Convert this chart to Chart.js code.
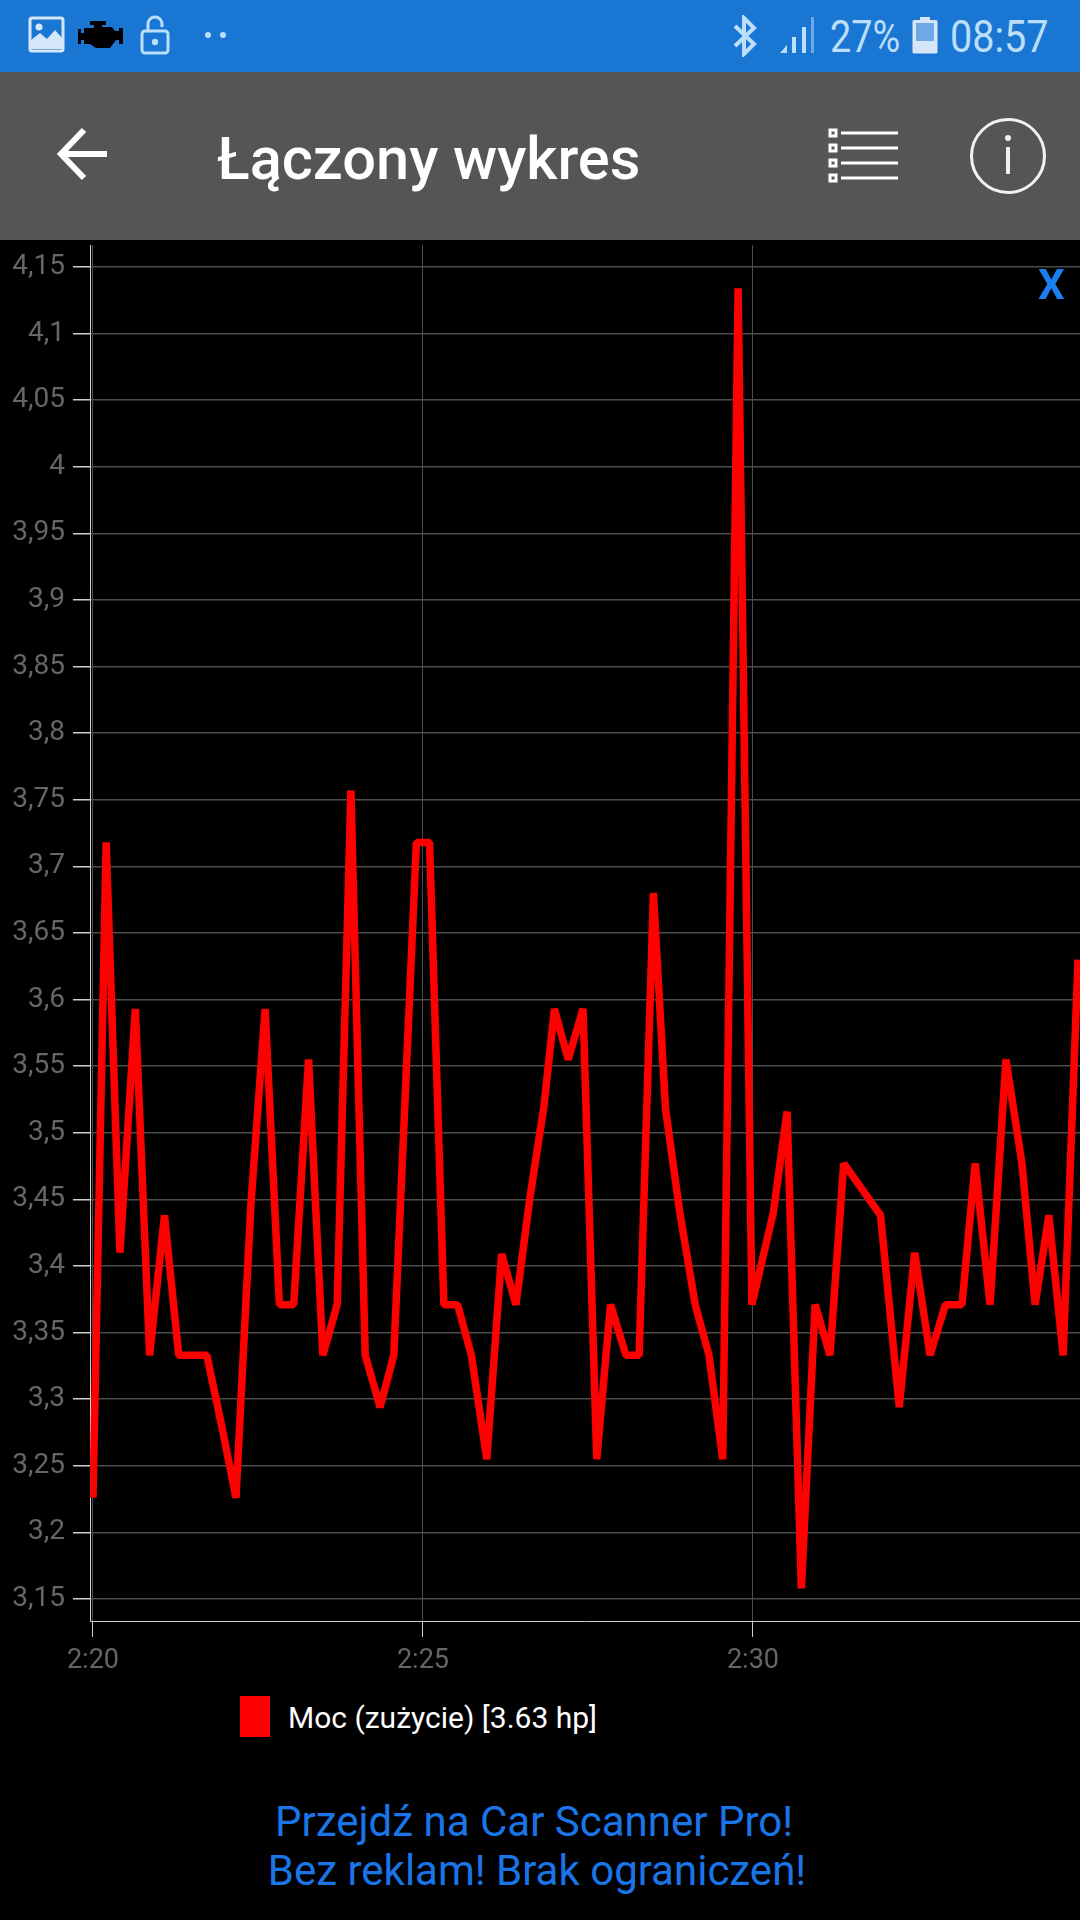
<!DOCTYPE html>
<html lang="pl">
<head>
<meta charset="utf-8">
<title>Łączony wykres</title>
<script src="https://cdn.jsdelivr.net/npm/chart.js@4/dist/chart.umd.min.js"></script>
<style>
  html, body { margin: 0; background: #000; }
  body { position: relative; width: 1080px; height: 1920px; overflow: hidden; font-family: Roboto, sans-serif; }
  .abs { position: absolute; white-space: nowrap; line-height: 1; }
  #status-bar { position: absolute; left: 0; top: 0; width: 1080px; height: 72px; background: #1976d2; }
  #app-bar { position: absolute; left: 0; top: 72px; width: 1080px; height: 168px; background: #555; }
  .status-text { color: #bbdefb; font-size: 44px; transform-origin: left center; transform: scaleX(.86); }
  #title { left: 217px; top: 130px; font-size: 59.5px; font-weight: 500; color: #fff; }
  #chart { position: absolute; left: 0; top: 240px; }
  #close { left: 1038px; top: 264px; font-size: 42px; font-weight: 700; color: #1a7ff0; }
  #legend-box { position: absolute; left: 240px; top: 1696px; width: 30px; height: 41px; }
  #legend-label { left: 288px; top: 1703px; font-size: 30px; color: #fff; }
  .promo { width: 1080px; text-align: center; font-size: 42px; color: #1a75e8; }
  svg { position: absolute; }
</style>
</head>
<body>
<div id="status-bar"></div>
<div id="app-bar"></div>

<!-- status bar icons -->
<svg style="left:28px;top:16px" width="38" height="38" viewBox="0 0 38 38">
  <rect x="2" y="2" width="33" height="33" rx="2" fill="none" stroke="#d4e6f8" stroke-width="3"/>
  <circle cx="11" cy="11" r="3.5" fill="#d4e6f8"/>
  <path d="M3 32 V24 L12 17 L19 23 L27 14 L34 22 V33 H3 Z" fill="#d4e6f8"/>
</svg>
<svg style="left:78px;top:20px" width="46" height="30" viewBox="0 0 46 30">
  <path d="M12 1 H28 V5 H24 V7 H34 L37 11 H41 V8 H45 V24 H41 V20 H38 L32 28 H18 L12 24 H6 V20 H3 V24 H0 V9 H3 V13 H6 V8 H16 V5 H12 Z" fill="#000"/>
</svg>
<svg style="left:140px;top:15px" width="30" height="40" viewBox="0 0 30 40">
  <rect x="2" y="16" width="26" height="22" rx="3" fill="none" stroke="#bbdefb" stroke-width="3"/>
  <path d="M8 16 V9 a7 7 0 0 1 14 0 V12" fill="none" stroke="#bbdefb" stroke-width="3"/>
  <circle cx="15" cy="27" r="3.2" fill="#bbdefb"/>
</svg>
<svg style="left:200px;top:28px" width="32" height="14" viewBox="0 0 32 14">
  <circle cx="8" cy="7" r="3" fill="#bbdefb"/><circle cx="23" cy="7" r="3" fill="#bbdefb"/>
</svg>
<svg style="left:730px;top:15px" width="30" height="42" viewBox="0 0 30 42">
  <path d="M5 11 L24 29 L14 39 V3 L24 13 L5 31" fill="none" stroke="#bbdefb" stroke-width="4"/>
</svg>
<svg style="left:778px;top:16px" width="38" height="38" viewBox="0 0 38 38">
  <path d="M2 37 L9 29 V37 Z" fill="#bbdefb"/>
  <rect x="14" y="21" width="4" height="16" fill="#bbdefb"/>
  <rect x="24" y="11" width="4" height="26" fill="#bbdefb"/>
  <rect x="33" y="1" width="3" height="36" fill="#6fa8e6"/>
</svg>
<div id="pct" class="abs status-text" style="left:830px;top:15px">27%</div>
<svg style="left:912px;top:16px" width="26" height="38" viewBox="0 0 26 38">
  <path d="M8 1 H18 V4 H24 a1.5 1.5 0 0 1 1.5 1.5 V36 a1.5 1.5 0 0 1 -1.5 1.5 H2 a1.5 1.5 0 0 1 -1.5 -1.5 V5.5 A1.5 1.5 0 0 1 2 4 H8 Z" fill="#d4e6f8"/>
  <rect x="4" y="7" width="18" height="18" fill="#6fa8e6"/>
</svg>
<div id="clock" class="abs status-text" style="left:950px;top:15px;transform:scaleX(.9)">08:57</div>

<!-- app bar -->
<svg style="left:57px;top:122px" width="55" height="60" viewBox="0 0 55 60">
  <path d="M50 32 H6 M27 8 L4 32 L27 56" fill="none" stroke="#fff" stroke-width="6"/>
</svg>
<div id="title" class="abs">Łączony wykres</div>
<svg style="left:825px;top:125px" width="90" height="60" viewBox="0 0 90 60">
  <g fill="none" stroke="#fff">
    <rect x="5" y="5" width="6" height="6" stroke-width="3"/>
    <rect x="5" y="20" width="6" height="6" stroke-width="3"/>
    <rect x="5" y="35" width="6" height="6" stroke-width="3"/>
    <rect x="5" y="50" width="6" height="6" stroke-width="3"/>
    <path d="M16 8 H73 M16 23 H73 M16 38 H73 M16 53 H73" stroke-width="3"/>
  </g>
</svg>
<svg style="left:968px;top:116px" width="80" height="80" viewBox="0 0 80 80">
  <circle cx="40" cy="40" r="36.5" fill="none" stroke="#f2f2f2" stroke-width="3"/>
  <circle cx="40" cy="22" r="3" fill="#f2f2f2"/>
  <rect x="38" y="31" width="4" height="27" fill="#f2f2f2"/>
</svg>

<canvas id="chart" width="1080" height="1440"></canvas>
<div id="close" class="abs">X</div>

<div id="legend-box"></div>
<div id="legend-label" class="abs"></div>

<div class="abs promo" style="left:-6px;top:1801px">Przejdź na Car Scanner Pro!</div>
<div class="abs promo" style="left:-3px;top:1850px">Bez reklam! Brak ograniczeń!</div>

<script>
// ── Data ────────────────────────────────────────────────────────────

const seriesLabel = 'Moc (zużycie) [3.63 hp]';

// seconds since 2:20
const times = [
  0, 12, 24.5, 38.5, 51.5, 65, 78, 91, 103.5, 117, 130, 143.5, 156.5, 169.5, 182.5, 196,
  209, 222, 234.5, 247.5, 261, 273.5, 294, 306, 319, 331.5, 344, 358, 371.5, 384.5, 397,
  410, 419.5, 432, 445.5, 458, 470.5, 484.5, 496.5, 509.5, 520.5, 533.5, 547.5, 560, 572.5,
  586.5, 599, 618.5, 631, 644, 656.5, 670, 682.5, 716, 733, 747, 761, 775, 790, 802, 815.5,
  830, 844.5, 856.5, 869, 882, 895.5,
];

const power = [
  3.226, 3.718, 3.41, 3.593, 3.333, 3.438, 3.333, 3.333, 3.333, 3.28, 3.226, 3.445, 3.593, 3.371, 3.371, 3.555,
  3.333, 3.371, 3.757, 3.333, 3.294, 3.333, 3.718, 3.718, 3.371, 3.371, 3.333, 3.255, 3.409, 3.371, 3.45,
  3.52, 3.593, 3.555, 3.593, 3.255, 3.371, 3.333, 3.333, 3.68, 3.518, 3.44, 3.371, 3.333, 3.255,
  4.134, 3.371, 3.44, 3.516, 3.158, 3.371, 3.333, 3.477, 3.438, 3.294, 3.41, 3.333, 3.371, 3.371, 3.477, 3.371,
  3.555, 3.477, 3.371, 3.438, 3.333, 3.63,
];

const xTickValues = [0, 300, 600];
const xTickLabels = ['2:20', '2:25', '2:30'];

const yTickValues = [3.15, 3.2, 3.25, 3.3, 3.35, 3.4, 3.45, 3.5, 3.55, 3.6, 3.65, 3.7, 3.75, 3.8, 3.85, 3.9, 3.95, 4, 4.05, 4.1, 4.15];
const yTickLabels = ['3,15', '3,2', '3,25', '3,3', '3,35', '3,4', '3,45', '3,5', '3,55', '3,6', '3,65', '3,7', '3,75', '3,8', '3,85', '3,9', '3,95', '4', '4,05', '4,1', '4,15'];

// ── Chart ───────────────────────────────────────────────────────────

const LINE_RED = '#ff0000';
const GRID = '#4c4c4c';
const AXIS = '#cfcfcf';
const TICK_TEXT = '#666666';

const chart = new Chart(document.getElementById('chart'), {
  type: 'line',
  data: {
    datasets: [{
      label: seriesLabel,
      data: times.map((t, i) => ({ x: t, y: power[i] })),
      borderColor: LINE_RED,
      backgroundColor: LINE_RED,
      borderWidth: 7.5,
      borderJoinStyle: 'bevel',
      pointRadius: 0,
      tension: 0,
      fill: false,
    }],
  },
  options: {
    responsive: false,
    animation: false,
    layout: { padding: { top: 5, right: 0, bottom: 0, left: 0 } },
    plugins: { legend: { display: false }, tooltip: { enabled: false } },
    scales: {
      x: {
        type: 'linear',
        min: -2.7,
        max: 897.3,
        afterBuildTicks: ax => { ax.ticks = xTickValues.map(v => ({ value: v })); },
        afterFit: ax => { ax.height = 59; ax.paddingLeft = 0; ax.paddingRight = 0; },
        ticks: {
          autoSkip: false,
          maxRotation: 0,
          color: TICK_TEXT,
          font: { family: 'Roboto', size: 27 },
          padding: 8,
          callback: (v, i) => xTickLabels[i],
        },
        grid: { color: GRID, lineWidth: 1, tickColor: AXIS, tickLength: 16 },
        border: { color: AXIS, width: 1 },
      },
      y: {
        min: 3.1335,
        max: 4.1665,
        afterBuildTicks: ax => { ax.ticks = yTickValues.map(v => ({ value: v })); },
        afterFit: ax => { ax.width = 90; ax.paddingTop = 0; ax.paddingBottom = 0; },
        ticks: {
          autoSkip: false,
          color: TICK_TEXT,
          font: { family: 'Roboto', size: 28 },
          padding: 8,
          callback: (v, i) => yTickLabels[i],
        },
        grid: { color: GRID, lineWidth: 1.5, tickColor: AXIS, tickLength: 17 },
        border: { color: AXIS, width: 1 },
      },
    },
  },
});

// ── Legend (outside the canvas, like the app has it) ────────────────

const ds = chart.data.datasets[0];
document.getElementById('legend-box').style.background = ds.borderColor;
document.getElementById('legend-label').textContent = ds.label;
</script>
</body>
</html>
